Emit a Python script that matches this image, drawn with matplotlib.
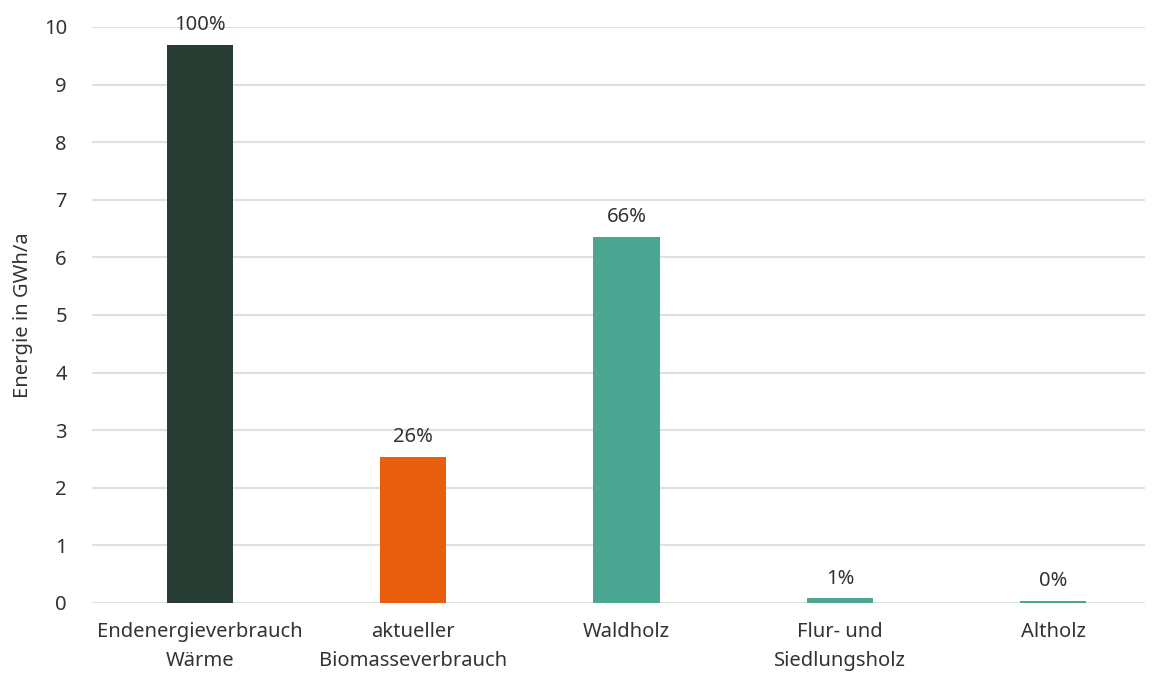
import numpy as np
import matplotlib.pyplot as plt

# Werte
categories = ['Endenergieverbrauch\nWärme', 'aktueller\nBiomasseverbrauch', 'Waldholz',
              'Flur- und\nSiedlungsholz', 'Altholz']
values = [9.69, 2.53, 6.35, 0.08, 0.03]
shares = ['100%', '26%', '66%', '1%', '0%']
colors = ['#273d33', '#e85d0e', '#4ba691', '#4ba691', '#4ba691']

plt.rcParams['font.family'] = ['Noto Sans', 'DejaVu Sans']
text_color = '#333333'
fs = 14.5

fig = plt.figure(figsize=(11.6, 6.75), dpi=100)
ax = fig.add_axes([0.0793, 0.1067, 0.9077, 0.8533])

x = np.arange(len(categories))
bars = ax.bar(x, values, width=0.31, color=colors, zorder=3)

for xi, v, s in zip(x, values, shares):
    ax.text(xi, v + 0.17, s, ha='center', va='bottom', fontsize=fs, color=text_color)

ax.set_xlim(-0.506, 4.43)
ax.set_ylim(0, 10)
ax.set_yticks(range(0, 11))
ax.set_xticks(x)
ax.set_xticklabels(categories, fontsize=fs, color=text_color, linespacing=1.55)
ax.tick_params(axis='y', labelsize=fs, labelcolor=text_color, length=0, pad=18)
ax.tick_params(axis='x', length=0, pad=14)
ax.grid(axis='y', color='#d9e3e0', linewidth=1.5, zorder=0)
for sp in ax.spines.values():
    sp.set_visible(False)
ax.set_ylabel('Energie in GWh/a', fontsize=fs, color=text_color, labelpad=8)

fig.savefig('out.png')
